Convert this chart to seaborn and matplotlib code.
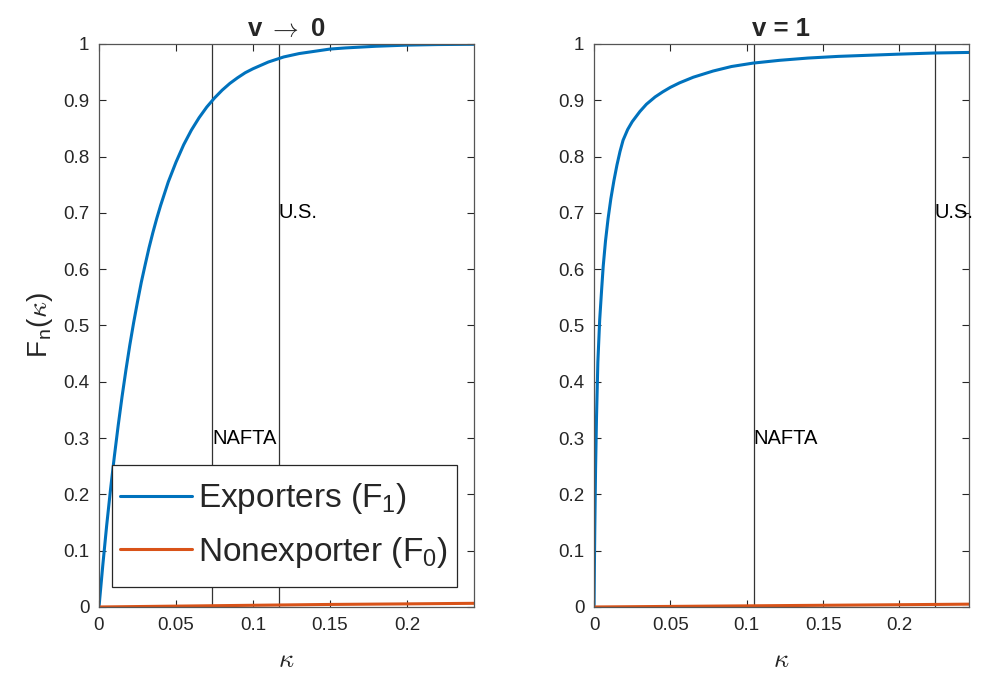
import matplotlib
matplotlib.use('Agg')
import matplotlib.pyplot as plt
from matplotlib.path import Path
import seaborn as sns

# Exporters / nonexporters CDF
kappa_l = [0, 0.0025, 0.005, 0.0075, 0.01, 0.0125, 0.015, 0.0175, 0.02, 0.0225, 0.025,
           0.0275, 0.03, 0.0325, 0.035, 0.0375, 0.04, 0.045, 0.05, 0.055, 0.06, 0.065,
           0.07, 0.075, 0.08, 0.085, 0.09, 0.095, 0.1, 0.11, 0.12, 0.13, 0.14, 0.15,
           0.16, 0.18, 0.2, 0.22, 0.2435]
f1_l = [0, 0.075, 0.145, 0.209, 0.268, 0.323, 0.374, 0.421, 0.465, 0.505, 0.542,
        0.577, 0.608, 0.638, 0.665, 0.69, 0.713, 0.755, 0.79, 0.821, 0.847, 0.869,
        0.888, 0.904, 0.918, 0.93, 0.94, 0.949, 0.956, 0.968, 0.977, 0.983, 0.987, 0.991,
        0.993, 0.996, 0.998, 0.999, 0.9995]
kappa_r = [0, 0.00025, 0.0005, 0.001, 0.0016, 0.0025, 0.0037, 0.005, 0.006, 0.0075,
           0.0092, 0.011, 0.013, 0.015, 0.017, 0.019, 0.022, 0.025, 0.03, 0.0343,
           0.04, 0.045, 0.05, 0.056, 0.065, 0.078, 0.09, 0.104, 0.1215, 0.14, 0.16,
           0.18, 0.2, 0.223, 0.2455]
f1_r = [0, 0.075, 0.14, 0.245, 0.335, 0.435, 0.51, 0.565, 0.605, 0.65,
        0.69, 0.725, 0.757, 0.785, 0.809, 0.829, 0.848, 0.862, 0.88, 0.893,
        0.906, 0.915, 0.923, 0.931, 0.941, 0.952, 0.96, 0.966, 0.971, 0.975, 0.978,
        0.98, 0.982, 0.984, 0.985]
kappa0_l = [0, 0.05, 0.1, 0.15, 0.2, 0.2435]
f0_l = [0, 0.0015, 0.003, 0.0045, 0.0055, 0.0065]
kappa0_r = [0, 0.05, 0.1, 0.15, 0.2, 0.2455]
f0_r = [0, 0.001, 0.002, 0.003, 0.004, 0.005]

# vertical markers: (x, label, label y)
marks_l = [(0.0734, 'NAFTA', 0.3), (0.1169, 'U.S.', 0.7)]
marks_r = [(0.1045, 'NAFTA', 0.3), (0.2232, 'U.S.', 0.7)]
titles = ['v $\\rightarrow$ 0', 'v = 1']
xmax = [0.2435, 0.2455]

blue = '#0072BD'
orange = '#D95319'


def tall_box(x0, y0, width, height, mutation_size):
    # matlab-like legend box: more padding top/bottom than at the sides
    dy = 0.25 * mutation_size
    return Path([(x0, y0 - dy), (x0 + width, y0 - dy), (x0 + width, y0 + height + dy),
                 (x0, y0 + height + dy), (x0, y0 - dy)], closed=True)


sns.set_style('ticks')
plt.rcParams['font.family'] = ['Liberation Sans', 'DejaVu Sans']

fig = plt.figure(figsize=(9.84, 6.81), dpi=100)
ax1 = fig.add_axes([0.1006, 0.1087, 0.381, 0.8267])
ax2 = fig.add_axes([0.6037, 0.1087, 0.381, 0.8267])

panels = [(ax1, kappa_l, f1_l, kappa0_l, f0_l, marks_l),
          (ax2, kappa_r, f1_r, kappa0_r, f0_r, marks_r)]

for i, (ax, k1, f1, k0, f0, marks) in enumerate(panels):
    sns.lineplot(x=k1, y=f1, ax=ax, color=blue, lw=2.2, label='Exporters (F$_\\mathregular{1}$)')
    sns.lineplot(x=k0, y=f0, ax=ax, color=orange, lw=2.2, label='Nonexporter (F$_\\mathregular{0}$)')
    for xv, lab, yv in marks:
        ax.axvline(xv, color='#333333', lw=0.9, zorder=1)
        ax.text(xv, yv, lab, ha='left', va='center', fontsize=14.5, color='black')
    ax.set_xlim(0, xmax[i])
    ax.set_ylim(0, 1)
    ax.set_xticks([0, 0.05, 0.1, 0.15, 0.2])
    ax.set_xticklabels(['0', '0.05', '0.1', '0.15', '0.2'])
    ax.set_yticks([j / 10 for j in range(11)])
    ax.set_yticklabels(['0'] + ['0.%d' % j for j in range(1, 10)] + ['1'])
    ax.tick_params(direction='in', top=True, right=True, length=5, width=0.8,
                   colors='#262626', labelsize=13.5, labelcolor='#262626', pad=7)
    for s in ax.spines.values():
        s.set_color('#555555')
        s.set_linewidth(0.9)
        s.set_visible(True)
    ax.set_title(titles[i], fontsize=18.5, fontweight='bold', pad=6, math_fontfamily='cm')
    ax.set_xlabel('$\\kappa$', fontsize=19, labelpad=10, color='#262626',
                  math_fontfamily='cm')
    if i == 0:
        leg = ax.legend(loc='lower left', bbox_to_anchor=(0.034, 0.051), borderaxespad=0,
                        fontsize=24, frameon=True, fancybox=False, handlelength=2.15,
                        handletextpad=0.2, labelspacing=0.56, borderpad=0.25)
        leg.get_frame().set_boxstyle(tall_box)
        leg.get_frame().set_edgecolor('#262626')
        leg.get_frame().set_linewidth(0.9)
        leg.get_frame().set_alpha(1)
    else:
        ax.get_legend().remove()

ax1.set_ylabel('F$_\\mathregular{n}$($\\kappa$)', fontsize=20, labelpad=6, color='#262626',
               math_fontfamily='cm')

fig.savefig('out.png', dpi=100, facecolor='white')
